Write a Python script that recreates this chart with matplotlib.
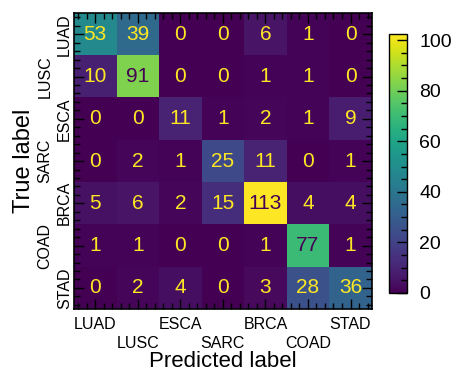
import numpy as np
import matplotlib
matplotlib.use("Agg")
import matplotlib.pyplot as plt
from matplotlib.ticker import AutoMinorLocator, MultipleLocator
from matplotlib.colors import Normalize
from matplotlib.cm import ScalarMappable

plt.rcParams['font.family'] = ['Liberation Sans', 'DejaVu Sans']

labels = ["LUAD", "LUSC", "ESCA", "SARC", "BRCA", "COAD", "STAD"]
cm = np.array([
    [53, 39, 0, 0, 6, 1, 0],
    [10, 91, 0, 0, 1, 1, 0],
    [0, 0, 11, 1, 2, 1, 9],
    [0, 2, 1, 25, 11, 0, 1],
    [5, 6, 2, 15, 113, 4, 4],
    [1, 1, 0, 0, 1, 77, 1],
    [0, 2, 4, 0, 3, 28, 36],
])
cbar_ticks = [0, 20, 40, 60, 80, 100]

fig = plt.figure(figsize=(4.59, 3.75), dpi=100)
ax = fig.add_axes([0.161, 0.176, 0.649, 0.789])
cmap = plt.get_cmap('viridis')
vmax = cm.max()
im = ax.imshow(cm, cmap=cmap, vmin=0, vmax=vmax, aspect='auto', interpolation='nearest')

thresh = (cm.max() + cm.min()) / 2.0
n = len(labels)
for i in range(n):
    for j in range(n):
        col = cmap(0.0) if cm[i, j] > thresh else cmap(1.0)
        ax.text(j, i, str(cm[i, j]), ha='center', va='center', color=col, fontsize=15)

ax.set_xticks(range(n))
ax.set_yticks(range(n))
ax.set_xticklabels(labels, fontsize=11.5)
ax.set_yticklabels(labels, fontsize=11.5, rotation=90, va='center')
ax.xaxis.set_minor_locator(AutoMinorLocator(5))
ax.yaxis.set_minor_locator(AutoMinorLocator(5))
ax.tick_params(which='both', direction='in', top=True, right=True, width=1)
ax.tick_params(which='major', length=7)
ax.tick_params(which='minor', length=4)
ax.tick_params(axis='x', which='major', pad=5.5)
ax.tick_params(axis='y', which='major', pad=1.5)
for s in ax.spines.values():
    s.set_linewidth(1.2)

xt = ax.xaxis.get_major_ticks()
for k, t in enumerate(xt):
    if k % 2 == 1:
        t.set_pad(19.5)
yt = ax.yaxis.get_major_ticks()
for k, t in enumerate(yt):
    if k % 2 == 1:
        t.set_pad(15.5)

ax.set_xlabel("Predicted label", fontsize=16)
ax.set_ylabel("True label", fontsize=17)
ax.xaxis.set_label_coords(0.5, -0.142)
ax.yaxis.set_label_coords(-0.13, 0.5)

cax = fig.add_axes([0.8475, 0.219, 0.039, 0.690])
sm = ScalarMappable(norm=Normalize(0, 102.4), cmap=cmap)
cb = fig.colorbar(sm, cax=cax)
cb.set_ticks(cbar_ticks)
cb.ax.yaxis.set_minor_locator(MultipleLocator(5))
cb.ax.tick_params(which='both', direction='in', right=True, left=False, labelsize=14, width=1)
cb.ax.tick_params(which='major', length=7, pad=9)
cb.ax.tick_params(which='minor', length=4)
cb.outline.set_linewidth(1)

fig.savefig("out.png", dpi=100)
